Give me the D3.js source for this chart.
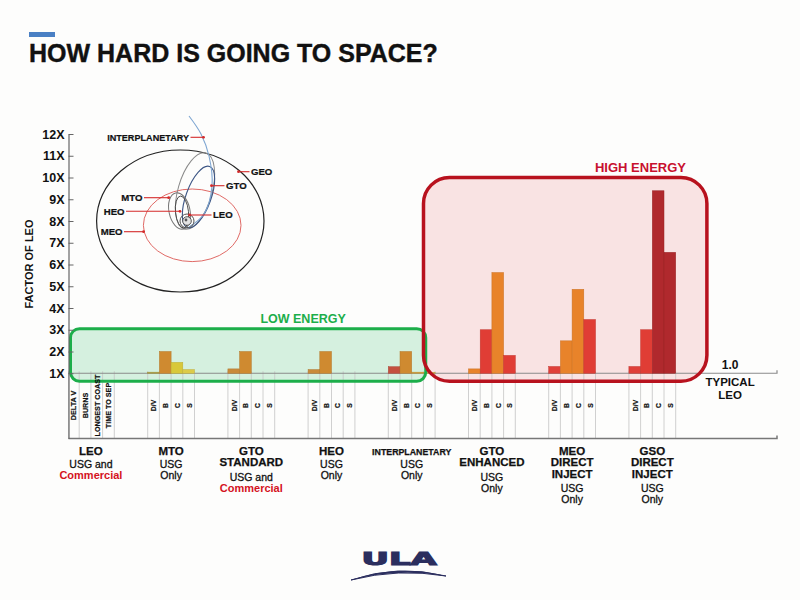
<!DOCTYPE html>
<html>
<head>
<meta charset="utf-8">
<script src="https://cdn.jsdelivr.net/npm/d3@7"></script>
<style>
  body { margin: 0; background: #fdfdfc; }
  svg { display: block; font-family: "Liberation Sans", Arial, sans-serif; }
</style>
</head>
<body>
<svg id="chart" width="800" height="600"></svg>
<script>
// orbit groups, left to right
const orbits = ["LEO", "MTO", "GTO STANDARD", "HEO", "INTERPLANETARY", "GTO ENHANCED", "MEO DIRECT INJECT", "GSO DIRECT INJECT"];
const nameLines = [["LEO"], ["MTO"], ["GTO", "STANDARD"], ["HEO"], ["INTERPLANETARY"], ["GTO", "ENHANCED"], ["MEO", "DIRECT", "INJECT"], ["GSO", "DIRECT", "INJECT"]];
const usageLines = [["USG and", "Commercial"], ["USG", "Only"], ["USG and", "Commercial"], ["USG", "Only"], ["USG", "Only"], ["USG", "Only"], ["USG", "Only"], ["USG", "Only"]];
const metricLabels = ["D/V", "B", "C", "S"];
const leoMetricLabels = ["DELTA V", "BURNS", "LONGEST COAST", "TIME TO SEP"];

// factor of LEO (LEO itself = 1.0 baseline)
const deltaV    = [null, 1.05, 1.2, 1.17, 1.3, 1.2, 1.31, 1.31];
const burns     = [null, 2.0, 2.0, 2.0, 2.0, 3.0, 2.49, 3.0];
const coast     = [null, 1.5, null, null, 1.05, 5.63, 4.86, 9.39];
const timeToSep = [null, 1.17, null, null, 1.04, 1.82, 3.47, 6.56];

const deltaVColors    = [null, "#b3a443", "#c98a3a", "#c98a3a", "#c4503f", "#e8832a", "#e0403a", "#e0403a"];
const burnsColors     = [null, "#cf8a30", "#cf8a30", "#cf8a30", "#cf8a30", "#e03d35", "#e8832a", "#e03d35"];
const coastColors     = [null, "#d8c83a", null, null, "#d4a23a", "#e8832a", "#e8832a", "#b0292d"];
const timeToSepColors = [null, "#dccb4a", null, null, "#d8b040", "#e03d35", "#e03d35", "#b0292d"];

const yTicks = d3.range(1, 13);
const lowEnergy = orbits.slice(1, 5);
const highEnergy = orbits.slice(5);

const series = [deltaV, burns, coast, timeToSep];
const seriesColors = [deltaVColors, burnsColors, coastColors, timeToSepColors];

const svg = d3.select("#chart");

const x = d3.scaleBand().domain(orbits).range([67.5, 709.1]);
const col = d3.scaleBand().domain(d3.range(4)).range([0, 46.8]);
const y = d3.scaleLinear().domain([-2, 12]).range([438.5, 134]);
const axisX = 68.5;
const rightEnd = 777;
const mid = (o) => x(o) + col.step() * 2;

// title
svg.append("rect").attr("x", 29).attr("y", 32).attr("width", 26).attr("height", 5).attr("fill", "#4a80c4");
svg.append("text").attr("x", 29).attr("y", 62)
  .attr("font-size", 25).attr("font-weight", "bold").attr("fill", "#111")
  .attr("stroke", "#111").attr("stroke-width", 0.4)
  .text("HOW HARD IS GOING TO SPACE?");

// energy boxes (fills first)
const lowBox = {
  x0: axisX + 2, x1: x(lowEnergy[3]) + col.step() * 3.2,
  y0: y(3.05), y1: y(1) + 8
};
const highBox = {
  x0: x(highEnergy[0]) - 45, x1: x(highEnergy[2]) + 78,
  y0: y(10), y1: y(1) + 8
};
svg.append("rect").attr("x", highBox.x0).attr("y", highBox.y0)
  .attr("width", highBox.x1 - highBox.x0).attr("height", highBox.y1 - highBox.y0)
  .attr("rx", 26).attr("fill", "#f9e3e3");
svg.append("rect").attr("x", lowBox.x0).attr("y", lowBox.y0)
  .attr("width", lowBox.x1 - lowBox.x0).attr("height", lowBox.y1 - lowBox.y0)
  .attr("rx", 9).attr("fill", "#d5f0df");

// column grid lines under baseline
const gridG = svg.append("g").attr("stroke", "#c4c4c4").attr("stroke-width", 0.8);
orbits.forEach((o) => {
  d3.range(5).forEach((k) => {
    const gx = Math.max(x(o) + k * col.step(), axisX);
    gridG.append("line").attr("x1", gx).attr("x2", gx)
      .attr("y1", y(1) - 2).attr("y2", y(-2));
  });
});

// baseline (1X) and bottom line
[1, -2].forEach((v) => {
  svg.append("path")
    .attr("d", `M${axisX},${y(v)}H${rightEnd}v-3`)
    .attr("fill", "none").attr("stroke", v === 1 ? "#8a8a8a" : "#777")
    .attr("stroke-width", v === 1 ? 1.2 : 1.5);
});

// bars
const bars = orbits.flatMap((o, i) =>
  series.map((s, j) => ({ o: o, j: j, v: s[i], c: seriesColors[j][i] }))
).filter((d) => d.v != null);

svg.append("g").selectAll("rect").data(bars).join("rect")
  .attr("x", (d) => x(d.o) + col(d.j))
  .attr("y", (d) => y(d.v))
  .attr("width", col.bandwidth())
  .attr("height", (d) => y(1) - y(d.v))
  .attr("fill", (d) => d.c)
  .attr("stroke", (d) => d3.color(d.c).darker(0.4))
  .attr("stroke-width", 0.5);

// box outlines
svg.append("rect").attr("x", lowBox.x0).attr("y", lowBox.y0)
  .attr("width", lowBox.x1 - lowBox.x0).attr("height", lowBox.y1 - lowBox.y0)
  .attr("rx", 9).attr("fill", "none").attr("stroke", "#1cae4a").attr("stroke-width", 3);
svg.append("rect").attr("x", highBox.x0).attr("y", highBox.y0)
  .attr("width", highBox.x1 - highBox.x0).attr("height", highBox.y1 - highBox.y0)
  .attr("rx", 26).attr("fill", "none").attr("stroke", "#b8121e").attr("stroke-width", 3.5);

svg.append("text").attr("x", (lowBox.x0 + lowBox.x1) / 2 + 55).attr("y", lowBox.y0 - 6)
  .attr("text-anchor", "middle").attr("font-size", 12.5).attr("font-weight", "bold")
  .attr("fill", "#1cae4a").text("LOW ENERGY");
svg.append("text").attr("x", highBox.x0 + 217).attr("y", highBox.y0 - 6)
  .attr("text-anchor", "middle").attr("font-size", 13).attr("font-weight", "bold")
  .attr("fill", "#c8102e").text("HIGH ENERGY");

// y axis
const yAxis = d3.axisLeft(y).tickValues(yTicks).tickFormat((d) => d + "X")
  .tickSize(-5).tickSizeOuter(0).tickPadding(4);
const yG = svg.append("g").attr("transform", `translate(${axisX},0)`).call(yAxis);
yG.select(".domain").attr("stroke", "#666").attr("stroke-width", 1.2);
yG.selectAll(".tick line").attr("stroke", "#666");
yG.selectAll(".tick text").attr("font-size", 12.5).attr("font-weight", "bold")
  .attr("fill", "#111").attr("font-family", "Liberation Sans, Arial, sans-serif");

svg.append("text").attr("transform", "translate(33,264) rotate(-90)")
  .attr("text-anchor", "middle").attr("font-size", 11).attr("font-weight", "bold")
  .attr("fill", "#111").text("FACTOR OF LEO");

// typical LEO note
const noteX = x.range()[1] + 21;
svg.append("text").attr("x", noteX).attr("y", y(1) - 4).attr("text-anchor", "middle")
  .attr("font-size", 12).attr("font-weight", "bold").attr("fill", "#111").text("1.0");
["TYPICAL", "LEO"].forEach((t, k) => {
  svg.append("text").attr("x", noteX).attr("y", y(1) + 13 + k * 12.6).attr("text-anchor", "middle")
    .attr("font-size", 11.5).attr("font-weight", "bold").attr("fill", "#111").text(t);
});

// rotated column labels
const colLabelY = 405.5;
orbits.forEach((o, i) => {
  const labels = i === 0 ? leoMetricLabels : metricLabels;
  labels.forEach((t, j) => {
    svg.append("text")
      .attr("transform", `translate(${x(o) + col(j) + col.bandwidth() / 2 + 0.5},${colLabelY}) rotate(-90)`)
      .attr("text-anchor", "middle").attr("dy", "0.35em")
      .attr("font-size", i === 0 ? 7.2 : 6.8).attr("font-weight", "bold").attr("fill", "#111")
      .attr("stroke", "#111").attr("stroke-width", 0.2)
      .text(t);
  });
});

// group labels under the axis
orbits.forEach((o, i) => {
  const cx = mid(o);
  const names = nameLines[i];
  names.forEach((t, k) => {
    svg.append("text").attr("x", cx).attr("y", 454.5 + k * 11.5).attr("text-anchor", "middle")
      .attr("font-size", o === "INTERPLANETARY" ? 8.8 : 11.5).attr("font-weight", "bold")
      .attr("stroke", "#111").attr("stroke-width", 0.25)
      .attr("fill", "#111").text(t);
  });
  const startY = names.length === 1 ? 467.5 : 454.5 + names.length * 11.5 + 3;
  usageLines[i].forEach((t, k) => {
    svg.append("text").attr("x", cx).attr("y", startY + k * 11).attr("text-anchor", "middle")
      .attr("font-size", t === "Commercial" ? 11 : 10.5)
      .attr("font-weight", t === "Commercial" ? "bold" : "normal")
      .attr("stroke", t === "Commercial" ? "none" : "#111").attr("stroke-width", 0.3)
      .attr("fill", t === "Commercial" ? "#d4121e" : "#111").text(t);
  });
});

// orbit diagram (inset)
const orb = svg.append("g").attr("fill", "none");
orb.append("ellipse").attr("cx", 180.3).attr("cy", 221).attr("rx", 83.7).attr("ry", 71)
  .attr("stroke", "#222").attr("stroke-width", 1.2);
orb.append("ellipse").attr("cx", 192.2).attr("cy", 225.3).attr("rx", 48.8).attr("ry", 36.3)
  .attr("stroke", "#e06a66").attr("stroke-width", 1);
orb.append("ellipse").attr("cx", 0).attr("cy", 0).attr("rx", 17).attr("ry", 39.5)
  .attr("transform", "translate(195,191) rotate(16)").attr("stroke", "#8a8a8a").attr("stroke-width", 1);
orb.append("ellipse").attr("cx", 0).attr("cy", 0).attr("rx", 12.5).attr("ry", 32.5)
  .attr("transform", "translate(198.5,197) rotate(20)").attr("stroke", "#3d5685").attr("stroke-width", 1.1);
orb.append("ellipse").attr("cx", 0).attr("cy", 0).attr("rx", 10.5).attr("ry", 18.5)
  .attr("transform", "translate(179.5,211) rotate(-12)").attr("stroke", "#777").attr("stroke-width", 1);
orb.append("ellipse").attr("cx", 0).attr("cy", 0).attr("rx", 6.5).attr("ry", 16)
  .attr("transform", "translate(182,212) rotate(-6)").attr("stroke", "#444").attr("stroke-width", 0.9);
orb.append("path")
  .attr("d", d3.line().curve(d3.curveCatmullRom)([[189, 227], [204, 214], [212, 186], [209, 156], [201, 134], [189, 116]]))
  .attr("stroke", "#7ea6d2").attr("stroke-width", 1.1);
orb.append("circle").attr("cx", 187).attr("cy", 221).attr("r", 7).attr("stroke", "#555").attr("stroke-width", 1);
orb.append("circle").attr("cx", 187).attr("cy", 221).attr("r", 4.3).attr("fill", "#e4e4e4").attr("stroke", "#333").attr("stroke-width", 0.8);
orb.append("circle").attr("cx", 186).attr("cy", 220).attr("r", 1.4).attr("fill", "#555");

const orbitLabels = [
  { t: "INTERPLANETARY", tx: 189, ty: 137.3, px: 203.5, py: 137.3, anchor: "end" },
  { t: "GEO", tx: 251, ty: 171.7, px: 238.5, py: 171.7, anchor: "start" },
  { t: "GTO", tx: 226, ty: 185.7, px: 211.5, py: 185.7, anchor: "start" },
  { t: "MTO", tx: 142.5, ty: 197.7, px: 168.7, py: 197.7, anchor: "end" },
  { t: "HEO", tx: 124.5, ty: 211.3, px: 180, py: 211.3, anchor: "end" },
  { t: "LEO", tx: 213, ty: 215, px: 189.5, py: 215, anchor: "start" },
  { t: "MEO", tx: 122.5, ty: 231.7, px: 143.6, py: 231.7, anchor: "end" }
];
orbitLabels.forEach((d) => {
  const lx = d.anchor === "end" ? d.tx + 1.5 : d.tx - 1.5;
  orb.append("line").attr("x1", lx).attr("x2", d.px).attr("y1", d.py).attr("y2", d.py)
    .attr("stroke", "#d42a2a").attr("stroke-width", 1.1);
  orb.append("circle").attr("cx", d.px).attr("cy", d.py).attr("r", 1.4).attr("fill", "#d42a2a");
  svg.append("text").attr("x", d.tx).attr("y", d.ty + 3.4).attr("text-anchor", d.anchor)
    .attr("font-size", d.t === "INTERPLANETARY" ? 9.1 : 9.6).attr("font-weight", "bold")
    .attr("stroke", "#111").attr("stroke-width", 0.2)
    .attr("fill", "#111").text(d.t);
});

// ULA logo
const logo = svg.append("g").attr("fill", "#2b2e5e");
logo.append("text").attr("x", 361.5).attr("y", 565).attr("font-size", 18.5)
  .attr("font-weight", "bold").attr("textLength", 75).attr("lengthAdjust", "spacingAndGlyphs")
  .attr("stroke", "#2b2e5e").attr("stroke-width", 1.2)
  .attr("font-family", "DejaVu Sans, sans-serif").text("ULA");
logo.append("path")
  .attr("d", "M351,580 Q398,564 446,576 Q398,568 351,580 Z")
  .attr("stroke", "#2b2e5e").attr("stroke-width", 1);
</script>
</body>
</html>
